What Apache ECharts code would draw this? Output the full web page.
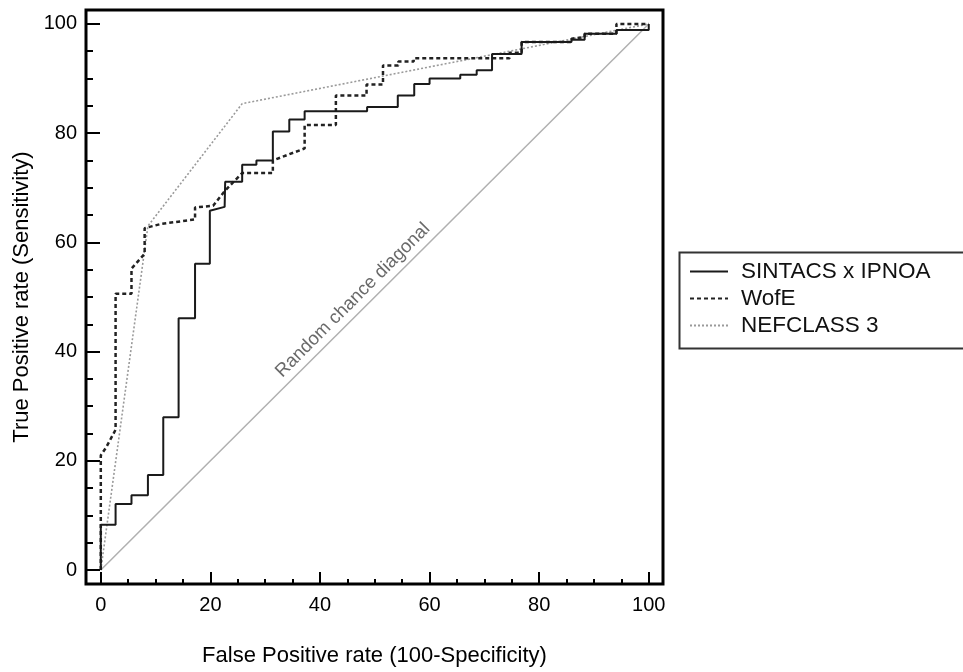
<!DOCTYPE html>
<html>
<head>
<meta charset="utf-8">
<script src="https://cdn.jsdelivr.net/npm/echarts@6/dist/echarts.min.js"></script>
<style>
html,body{margin:0;padding:0;background:#fff;}
#chart{width:963px;height:672px;}
</style>
</head>
<body>
<div id="chart"></div>
<script>
// ---- data (vertices of the ROC curves, in % ) ----
const sintacsFpr = [0,0,2.7,2.7,5.6,5.6,8.6,8.6,11.4,11.4,14.2,14.2,17.2,17.2,19.9,19.9,22.6,22.7,25.8,25.8,28.4,28.4,31.4,31.4,34.4,34.4,37.2,37.2,48.6,48.6,54.2,54.2,57.2,57.2,60.0,60.0,65.6,65.6,68.6,68.6,71.4,71.4,76.8,76.8,85.9,85.9,88.3,88.3,94.1,94.1,100,100];
const sintacsTpr = [0,8.3,8.3,12.1,12.1,13.7,13.7,17.4,17.4,28.0,28.0,46.1,46.1,56.1,56.1,65.8,66.5,71.1,71.1,74.2,74.2,75.0,75.0,80.3,80.3,82.5,82.5,84.0,84.0,84.8,84.8,86.9,86.9,89.0,89.0,90.0,90.0,90.7,90.7,91.5,91.5,94.5,94.5,96.7,96.7,97.1,97.1,98.2,98.2,98.9,98.9,100];
const wofeFpr = [0,0,1.0,2.7,2.7,5.6,5.6,8.0,8.0,11.1,17.2,17.2,20.5,22.7,25.8,31.4,31.4,37.2,37.2,42.9,42.9,48.5,48.5,51.5,51.5,54.3,54.3,57.1,57.1,74.6,74.6,76.8,76.8,85.9,85.9,88.3,88.3,94.1,94.1,100];
const wofeTpr = [0,21.0,22.5,25.7,50.6,50.6,55.2,57.9,62.6,63.4,64.2,66.4,66.7,69.5,72.7,72.7,75.0,77.2,81.5,81.5,86.9,86.9,88.9,88.9,92.4,92.4,93.1,93.1,93.7,93.7,94.7,94.7,96.7,96.7,97.3,97.6,98.2,98.2,100,100];
const nefFpr = [0,8.6,25.8,100];
const nefTpr = [0,63.0,85.4,100];
const diagFpr = [0,100];
const diagTpr = [0,100];
const seriesNames = ['SINTACS x IPNOA','WofE','NEFCLASS 3'];
const xMajorTicks = [0,20,40,60,80,100];
const xMinorTicks = [0,5,10,15,20,25,30,35,40,45,50,55,60,65,70,75,80,85,90,95,100];
const yMajorTicks = [0,20,40,60,80,100];
const yMinorTicks = [0,5,10,15,20,25,30,35,40,45,50,55,60,65,70,75,80,85,90,95,100];
const xTitle = 'False Positive rate (100-Specificity)';
const yTitle = 'True Positive rate (Sensitivity)';
const diagLabel = 'Random chance diagonal';

const zip = (a,b) => a.map((v,i)=>[v,b[i]]);
const FONT = '"Liberation Sans", Arial, sans-serif';

const chart = echarts.init(document.getElementById('chart'), null, {renderer:'canvas'});
const xr = {min:-2.7, max:102.6};
const yr = {min:-2.55, max:102.55};
const noLine = {show:false, onZero:false};

chart.setOption({
  animation:false,
  backgroundColor:'#fff',
  grid:{left:86, top:10, right:300, bottom:85, show:true, borderColor:'#000', borderWidth:3, backgroundColor:'transparent'},
  xAxis:[
    {type:'value', min:xr.min, max:xr.max, position:'bottom',
     axisLine:noLine, splitLine:{show:false},
     axisTick:{show:true, inside:true, length:12, customValues:xMajorTicks, lineStyle:{color:'#000', width:2}},
     axisLabel:{customValues:xMajorTicks, color:'#000', fontSize:20, fontFamily:FONT, margin:11},
     name:xTitle, nameLocation:'middle', nameGap:61,
     nameTextStyle:{color:'#000', fontSize:22, fontFamily:FONT}},
    {type:'value', min:xr.min, max:xr.max, position:'bottom',
     axisLine:noLine, splitLine:{show:false},
     axisTick:{show:true, inside:true, length:5, customValues:xMinorTicks, lineStyle:{color:'#000', width:2}},
     axisLabel:{show:false}}
  ],
  yAxis:[
    {type:'value', min:yr.min, max:yr.max, position:'left',
     axisLine:noLine, splitLine:{show:false},
     axisTick:{show:true, inside:true, length:14, customValues:yMajorTicks, lineStyle:{color:'#000', width:2}},
     axisLabel:{customValues:yMajorTicks, color:'#000', fontSize:20, fontFamily:FONT, margin:9},
     name:yTitle, nameLocation:'middle', nameGap:53, nameRotate:90,
     nameTextStyle:{color:'#000', fontSize:22, fontFamily:FONT}},
    {type:'value', min:yr.min, max:yr.max, position:'left',
     axisLine:noLine, splitLine:{show:false},
     axisTick:{show:true, inside:true, length:7, customValues:yMinorTicks, lineStyle:{color:'#000', width:2}},
     axisLabel:{show:false}}
  ],
  legend:{
    data:seriesNames, orient:'vertical', left:689, top:258, padding:0, itemGap:0,
    itemWidth:38, itemHeight:14,
    itemStyle:{opacity:0},
    textStyle:{color:'#111', fontSize:22.5, fontFamily:FONT, lineHeight:27, padding:[0,0,0,8]}
  },
  series:[
    {name:'diag', type:'line', data:zip(diagFpr,diagTpr), symbol:'none', silent:true,
     lineStyle:{color:'#b0b0b0', width:1.5}, z:1},
    {name:seriesNames[2], type:'line', data:zip(nefFpr,nefTpr), symbol:'none',
     lineStyle:{color:'#9a9a9a', width:1.6, type:[2,2]}, itemStyle:{color:'#9a9a9a'}, z:2},
    {name:seriesNames[1], type:'line', data:zip(wofeFpr,wofeTpr), symbol:'none',
     lineStyle:{color:'#222', width:2.5, type:[4,3]}, itemStyle:{color:'#222'}, z:3},
    {name:seriesNames[0], type:'line', data:zip(sintacsFpr,sintacsTpr), symbol:'none',
     lineStyle:{color:'#1a1a1a', width:2}, itemStyle:{color:'#1a1a1a'}, z:4}
  ]
});

const p = chart.convertToPixel({xAxisIndex:0, yAxisIndex:0}, [46, 49.4]);
chart.setOption({
  graphic:[
    {type:'rect', left:677, top:250, shape:{width:285, height:96}, silent:true,
     style:{fill:'none', stroke:'#333', lineWidth:2}, z:10},
    {type:'text', x:p[0], y:p[1], rotation:Math.PI/4, silent:true,
     style:{text:diagLabel, fill:'#6a6a6a', fontSize:18.5, fontFamily:FONT, align:'center', verticalAlign:'middle'}, z:10}
  ]
});
</script>
</body>
</html>
